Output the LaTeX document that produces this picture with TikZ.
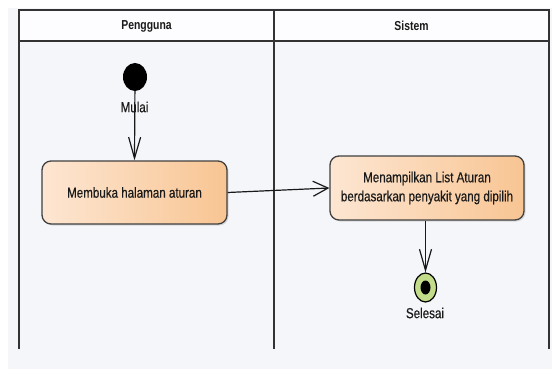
\documentclass[tikz,border=0pt]{standalone}
\usepackage{fontspec}
\setmainfont{Liberation Sans}[FakeStretch=0.8]
\newfontfamily\labelfont{Liberation Sans}[FakeStretch=0.8, FakeBold=0.4]
\usetikzlibrary{arrows.meta,shadows,shapes.geometric}

\definecolor{canvas}{HTML}{F5F6FA}
\definecolor{headfill}{HTML}{FDFDFF}
\definecolor{lanecol}{HTML}{333333}
\definecolor{peachL}{HTML}{FDE6D2}
\definecolor{peachR}{HTML}{F8C593}
\definecolor{endgreen}{HTML}{C3DC8A}
\definecolor{txt}{HTML}{1A1A1A}

\begin{document}
\begin{tikzpicture}[x=1pt,y=-1pt,
  lane/.style={draw=lanecol, line width=1.8pt},
  lanehead/.style={font=\bfseries\fontsize{13}{15}\selectfont, text=txt},
  action/.style={draw=black!75, line width=1.3pt, rounded corners=9pt,
    left color=peachL, right color=peachR, align=center, inner sep=0pt,
    font=\labelfont\fontsize{14.5}{19}\selectfont, text=txt,
    drop shadow={shadow xshift=1.5pt, shadow yshift=-1.5pt, opacity=0.25}},
  startnode/.style={ellipse, fill=black, minimum width=24pt, minimum height=28pt, inner sep=0pt},
  endnode/.style={ellipse, draw=black, line width=1.2pt, fill=endgreen,
    minimum width=22pt, minimum height=29pt, inner sep=0pt},
  enddot/.style={ellipse, fill=black, minimum width=10pt, minimum height=14pt, inner sep=0pt},
  tag/.style={font=\labelfont\fontsize{14.5}{16}\selectfont, text=txt, inner sep=0pt},
  flowh/.style={draw=black!90, line width=1.2pt,
    -{Straight Barb[length=15pt, width=15pt, line width=1.2pt]}},
  flowv/.style={draw=black!90, line width=1.2pt,
    -{Straight Barb[length=21pt, width=12pt, line width=1.2pt]}},
]
\useasboundingbox (0,0) rectangle (552,369);

% canvas and swimlane header
\fill[canvas] (8,8) rectangle (552,369);
\fill[headfill] (19,10) rectangle (549,41);
\draw[lane] (19,349) -- (19,10) -- (549,10) -- (549,349);
\draw[lane] (274,10) -- (274,349);
\draw[lane] (19,41) -- (549,41);

\node[lanehead] (hUser) at (146.5,26) {Pengguna};
\node[lanehead] (hSys) at (411.5,26) {Sistem};

% start node
\node[startnode] (start) at (135,77) {};
\node[tag] (startLbl) at (134.5,107) {Mulai};

% actions
\node[action, minimum width=185pt, minimum height=63pt] (open) at (134.5,192.5)
  {Membuka halaman aturan};
\node[action, minimum width=194pt, minimum height=64pt] (list) at (427,188)
  {Menampilkan List Aturan\\berdasarkan penyakit yang dipilih};

% final node
\node[endnode] (final) at (425.5,287.5) {};
\node[enddot] (finalDot) at (final.center) {};
\node[tag] (finalLbl) at (425,313) {Selesai};

% control flows
\draw[flowv] (start) -- (open.north);
\draw[flowh] (open.east) -- (list.west);
\draw[flowv] (list.south -| final.north) -- (final.north);
\end{tikzpicture}
\end{document}
